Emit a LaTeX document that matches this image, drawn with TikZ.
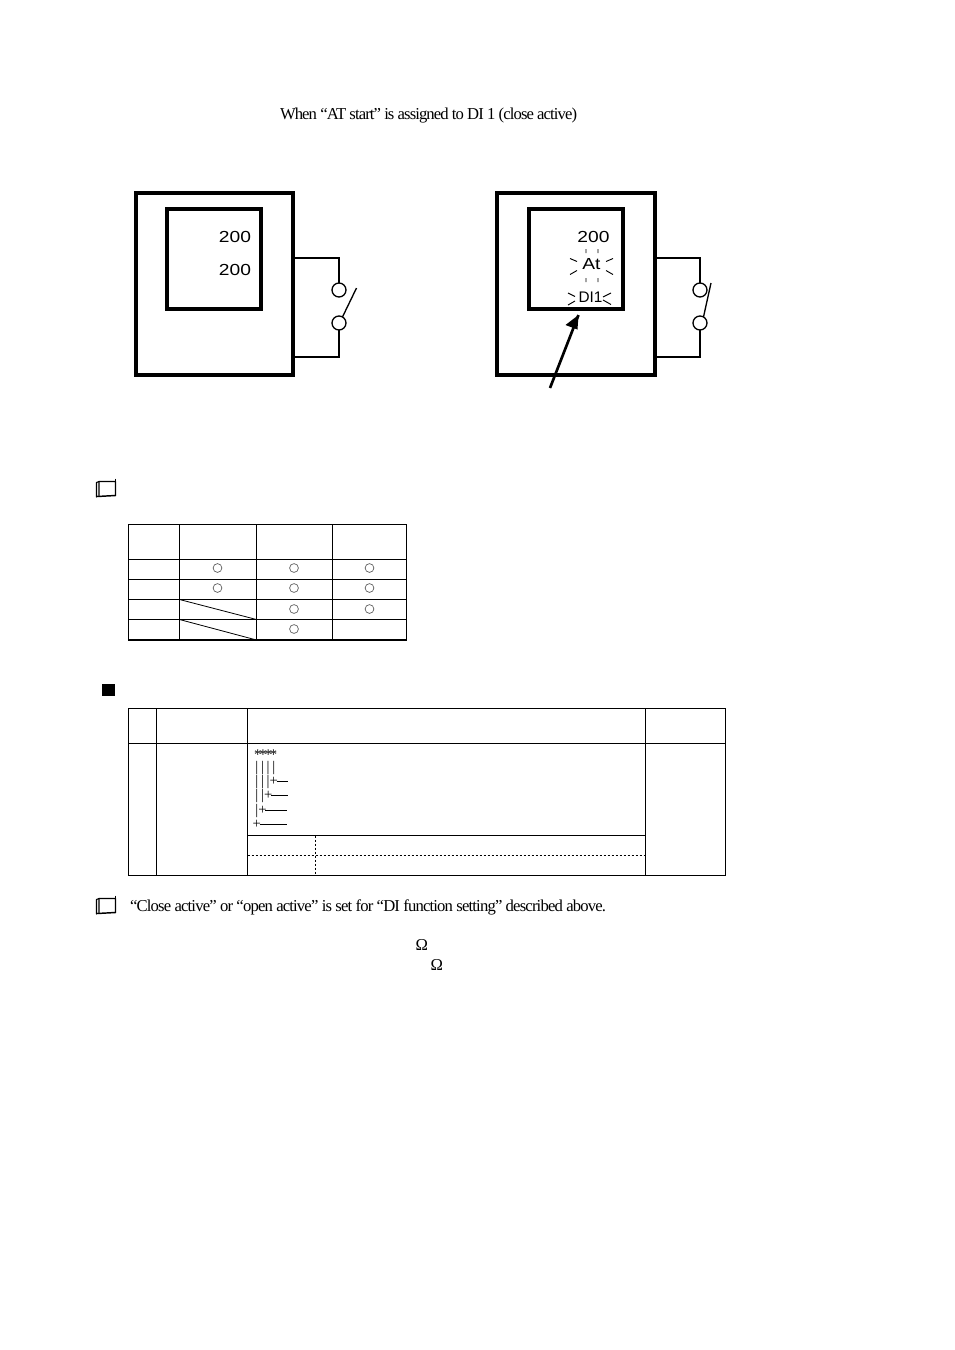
\documentclass[tikz,border=0pt]{standalone}
\usepackage{fontspec}
\setmainfont{Liberation Serif}
\newfontfamily\lcdfont[FakeStretch=1.2]{Liberation Sans}
\newfontfamily\lcdplain{Liberation Sans}
\newcommand{\tc}[1]{\makebox[4.25pt]{#1}}
\newcommand{\trule}[1]{\rule[2.4pt]{#1}{0.7pt}}
\tikzset{
  x=0.75pt,y=-0.75pt,
  box/.style={draw,line width=3pt,minimum width=#1,inner sep=0,outer sep=0},
  lcdtxt/.style={inner sep=0,outer sep=0,font=\lcdfont\fontsize{12pt}{13pt}\selectfont,anchor=base},
  wire/.style={line width=1pt},
  term/.style={circle,draw,line width=1pt,minimum size=10.5pt,inner sep=0,outer sep=0},
  flick/.style={line width=0.7pt},
  grid1/.style={line width=0.8pt},
  griddash/.style={line width=0.8pt,dash pattern=on 2pt off 1pt},
  okmark/.style={circle,draw=black!65,line width=0.5pt,minimum size=6.6pt,inner sep=0,outer sep=0},
  body/.style={inner sep=0,outer sep=0,anchor=base west,font=\fontsize{12.5pt}{14pt}\selectfont},
  treetxt/.style={inner sep=0,outer sep=0,anchor=base west,font=\fontsize{11pt}{12pt}\selectfont},
  noteicon/.style={line width=1.1pt,line join=round,line cap=round},
  noteedge/.style={line width=0.8pt,line cap=round}
}
\begin{document}
\begin{tikzpicture}
\useasboundingbox (0,0) rectangle (954,1350);
% title
\node[body] (title) at (280,119) {\addfontfeature{LetterSpace=-5.5}When “AT start” is assigned to DI 1 (close active)};
% left instrument
\node[box=117.75pt,minimum height=136.5pt] (outerL) at (214.2,284) {};
\node[box=70pt,minimum height=75pt] (innerL) at (214,259) {};
\node[lcdtxt] (pvL) at (235,242.5) {200};
\node[lcdtxt] (svL) at (235,275.5) {200};
\node[term] (t1L) at (339,290) {};
\node[term] (t2L) at (339,323) {};
\coordinate (wtL) at (339,258);
\coordinate (wbL) at (339,357);
\coordinate (levL) at (356.5,288);
\draw[wire] (outerL.east |- wtL) -- (wtL) -- (t1L.north);
\draw[wire] (outerL.east |- wbL) -- (wbL) -- (t2L.south);
\draw[wire] (t2L.60) -- (levL);
% right instrument
\node[box=118.5pt,minimum height=136.5pt] (outerR) at (576,284) {};
\node[box=71pt,minimum height=75pt] (innerR) at (576,259) {};
\node[lcdtxt] (pvR) at (593.5,242.5) {200};
\node[lcdtxt] (atR) at (591.5,269.5) {At};
\node[lcdtxt,font=\lcdplain\fontsize{11.5pt}{12pt}\selectfont] (diR) at (590.5,302) {DI1};
\node[term] (t1R) at (700,290) {};
\node[term] (t2R) at (700,323) {};
\coordinate (wtR) at (700,258);
\coordinate (wbR) at (700,357);
\coordinate (levR) at (711,283);
\draw[wire] (outerR.east |- wtR) -- (wtR) -- (t1R.north);
\draw[wire] (outerR.east |- wbR) -- (wbR) -- (t2R.south);
\draw[wire] (t2R.60) -- (levR);
\coordinate (arrS) at (550,388);
\coordinate (arrE) at (578.5,315);
\draw[line width=2pt] (arrS) -- (arrE);
\fill (arrE) -- (565.5,325) -- (577.5,329.5) -- cycle;
\draw[flick] (586,249)--(586,253) (598,249)--(598,253) (586,278)--(586,282) (598,278)--(598,282)
  (570,258.5)--(577,261.5) (570,274.5)--(577,270.5) (606,261.5)--(613,258.5) (606,270.5)--(613,274.5)
  (568,293)--(575,296.5) (568,305)--(575,301) (603,297)--(611,293) (603,300)--(611,304.5);
% note icon 1
\draw[noteicon] (99,481.5) -- (115.5,481.5) -- (115.5,495.5) -- (97,496.5);
\draw[noteedge] (96.5,482.5) -- (96.5,497) (99,481.5) -- (99,495.5) (96.5,482.5) -- (99,481.5);
\draw[noteicon] (115.5,481.5) -- (115.5,479.5);
% table 1
\draw[grid1] (128.5,524.5) rectangle (406.5,640);
\draw[grid1] (179.5,524.5)--(179.5,640) (256.5,524.5)--(256.5,640) (332.5,524.5)--(332.5,640);
\draw[grid1] (128.5,559.5)--(406.5,559.5) (128.5,579.5)--(406.5,579.5) (128.5,599.5)--(406.5,599.5) (128.5,619.5)--(406.5,619.5);
\draw[line width=1.3pt] (128.5,640)--(406.5,640);
\draw[line width=0.6pt] (179.5,599.5)--(256.5,619.5) (179.5,619.5)--(256.5,640);
\node[okmark] (o11) at (217.5,568) {};
\node[okmark] (o12) at (294,568) {};
\node[okmark] (o13) at (369.5,568) {};
\node[okmark] (o21) at (217.5,588) {};
\node[okmark] (o22) at (294,588) {};
\node[okmark] (o23) at (369.5,588) {};
\node[okmark] (o32) at (294,609) {};
\node[okmark] (o33) at (369.5,609) {};
\node[okmark] (o42) at (294,629) {};
% square bullet
\fill (102,684) rectangle (115,696);
% table 2
\draw[grid1] (128.5,708.5) rectangle (725.5,875.5);
\draw[grid1] (156.5,708.5)--(156.5,875.5) (247.5,708.5)--(247.5,875.5) (645.5,708.5)--(645.5,875.5);
\draw[grid1] (128.5,743.5)--(725.5,743.5) (247.5,835.5)--(645.5,835.5);
\draw[griddash] (247.5,855.5)--(645.5,855.5) (315.5,835.5)--(315.5,875.5);
% tree text
\node[treetxt] (tr0) at (254,759) {\addfontfeature{LetterSpace=-14}****};
\node[treetxt] (tr1) at (254,771) {\tc{|}\tc{|}\tc{|}\tc{|}};
\node[treetxt] (tr2) at (254,785) {\tc{|}\tc{|}\tc{|}\tc{+}\trule{8.5pt}};
\node[treetxt] (tr3) at (254,799) {\tc{|}\tc{|}\tc{+}\trule{12.5pt}};
\node[treetxt] (tr4) at (254,814) {\tc{|}\tc{+}\trule{16.5pt}};
\node[treetxt] (tr5) at (254,828) {\tc{+}\trule{20.5pt}};
% note icon 2
\draw[noteicon] (99,898.5) -- (115.5,898.5) -- (115.5,912.5) -- (97,913.5);
\draw[noteedge] (96.5,899.5) -- (96.5,914) (99,898.5) -- (99,912.5) (96.5,899.5) -- (99,898.5);
\draw[noteicon] (115.5,898.5) -- (115.5,896.5);
\node[body] (note) at (130,911) {\addfontfeature{LetterSpace=-5}“Close active” or “open active” is set for “DI function setting” described above.};
\node[body] (om1) at (415.5,950) {Ω};
\node[body] (om2) at (430.5,970) {Ω};
\end{tikzpicture}
\end{document}
